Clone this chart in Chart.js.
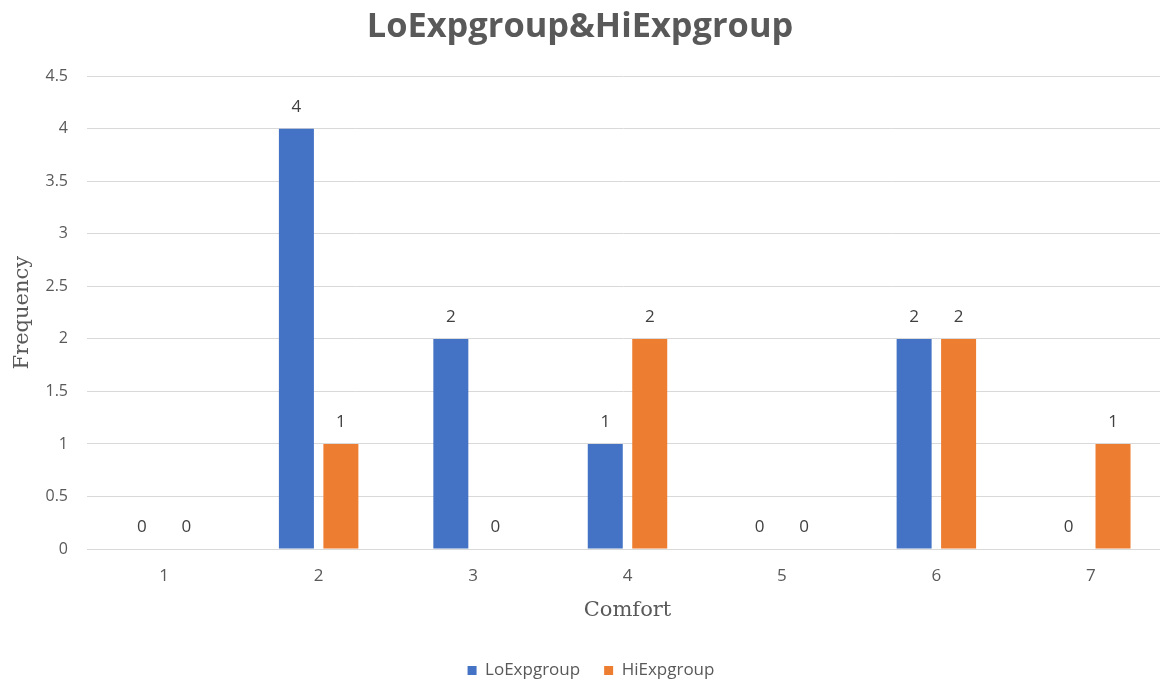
<!DOCTYPE html>
<html>
<head>
<meta charset="utf-8">
<script src="https://cdn.jsdelivr.net/npm/chart.js@4.4.1/dist/chart.umd.min.js"></script>
<style>
  html, body { margin: 0; padding: 0; background: #ffffff; }
  #wrap { width: 1160px; height: 679px; overflow: hidden; }
</style>
</head>
<body>
<div id="wrap"><canvas id="chart" width="1160" height="679"></canvas></div>
<script>
// Comfort ratings 1..7 and how often each group chose them
const comfortLevels = ['1', '2', '3', '4', '5', '6', '7'];
const loExpCounts = [0, 4, 2, 1, 0, 2, 0];
const hiExpCounts = [0, 1, 0, 2, 0, 2, 1];
const seriesNames = ['LoExpgroup', 'HiExpgroup'];
const frequencyTicks = [0, 0.5, 1, 1.5, 2, 2.5, 3, 3.5, 4, 4.5];

const GREY = '#595959';
const BODY_FONT = "'Open Sans', 'Noto Sans', sans-serif";
const SERIF_FONT = "'DejaVu Serif', serif";
const CATEGORY_AXIS_WIDTH = 1081; // the plot runs a little past the right edge of the canvas
const LEGEND_SHIFT = 11;          // legend sits centred under the (wider) plot

// Writes each bar's value just above its top edge
const barValueLabels = {
  id: 'barValueLabels',
  afterDatasetsDraw(chart) {
    const ctx = chart.ctx;
    ctx.save();
    ctx.font = '17px ' + BODY_FONT;
    ctx.fillStyle = '#404040';
    ctx.textAlign = 'center';
    ctx.textBaseline = 'middle';
    chart.data.datasets.forEach((ds, i) => {
      const meta = chart.getDatasetMeta(i);
      meta.data.forEach((bar, j) => {
        ctx.fillText(String(ds.data[j]), bar.x, bar.y - 22);
      });
    });
    ctx.restore();
  }
};

// Lets the category axis extend beyond the canvas' right edge
const widenCategoryAxis = {
  id: 'widenCategoryAxis',
  afterLayout(chart) {
    const x = chart.scales.x;
    x.right = x.left + CATEGORY_AXIS_WIDTH;
    x.width = CATEGORY_AXIS_WIDTH;
    x.configure();
    if (chart.legend) {
      chart.legend.left += LEGEND_SHIFT;
      chart.legend.right += LEGEND_SHIFT;
    }
  }
};

new Chart(document.getElementById('chart'), {
  type: 'bar',
  data: {
    labels: comfortLevels,
    datasets: [
      { label: seriesNames[0], data: loExpCounts, backgroundColor: '#4472C4' },
      { label: seriesNames[1], data: hiExpCounts, backgroundColor: '#ED7D31' }
    ]
  },
  options: {
    responsive: false,
    animation: false,
    devicePixelRatio: 1,
    categoryPercentage: 0.576,
    barPercentage: 0.787,
    layout: { padding: { left: 0, right: 0, top: 0, bottom: -10 } },
    plugins: {
      title: {
        display: true,
        text: 'LoExpgroup&HiExpgroup',
        color: GREY,
        font: { family: BODY_FONT, size: 34.4, weight: 'bold' },
        padding: { top: 7, bottom: 28 }
      },
      legend: {
        position: 'bottom',
        labels: {
          color: GREY,
          font: { family: BODY_FONT, size: 17 },
          boxWidth: 9,
          boxHeight: 9,
          padding: 24
        }
      },
      tooltip: { enabled: false }
    },
    scales: {
      x: {
        grid: { display: false, drawTicks: false },
        border: { display: true, color: '#d9d9d9' },
        ticks: { color: GREY, font: { family: BODY_FONT, size: 17 }, padding: 17 },
        title: {
          display: true,
          text: 'Comfort',
          color: GREY,
          font: { family: SERIF_FONT, size: 21 },
          padding: { top: 6, bottom: 15 }
        },
        afterFit(scale) { scale.height = 89; }
      },
      y: {
        min: 0,
        max: 4.5,
        afterBuildTicks(scale) { scale.ticks = frequencyTicks.map(v => ({ value: v })); },
        grid: { color: '#d9d9d9', drawTicks: false },
        border: { display: false },
        ticks: {
          color: GREY,
          font: { family: BODY_FONT, size: 16 },
          padding: 19,
          callback: (v) => String(v)
        },
        title: {
          display: true,
          text: 'Frequency',
          color: GREY,
          font: { family: SERIF_FONT, size: 21 },
          padding: { top: 10, bottom: 0 }
        },
        afterFit(scale) { scale.width = 87; }
      }
    }
  },
  plugins: [barValueLabels, widenCategoryAxis]
});
</script>
</body>
</html>
